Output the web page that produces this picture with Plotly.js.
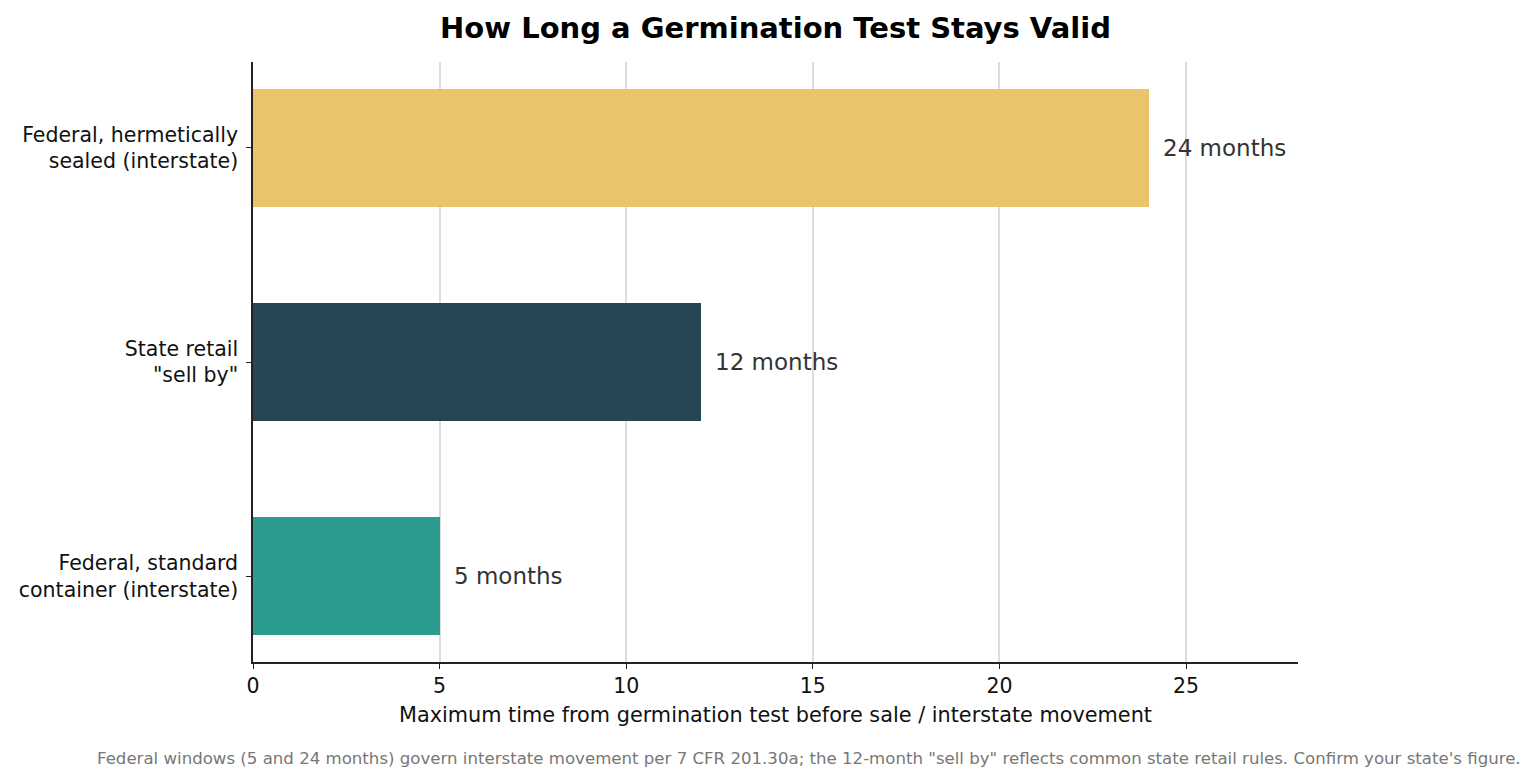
<!DOCTYPE html>
<html>
<head>
<meta charset="utf-8">
<script src="https://cdn.plot.ly/plotly-3.0.1.min.js"></script>
<style>
  html, body { margin: 0; padding: 0; background: #fff; }
  #chart { width: 1537px; height: 783px; }
</style>
</head>
<body>
<div id="chart"></div>
<script>
// chart data, top bar first
const categories = [
  'Federal, hermetically<br>sealed (interstate)',
  'State retail<br>"sell by"',
  'Federal, standard<br>container (interstate)'
];
const months = [24, 12, 5];
const valueLabels = ['24 months', '12 months', '5 months'];
const barColors = ['#E9C46A', '#264653', '#2A9D8F'];
const xTicks = [0, 5, 10, 15, 20, 25];

const FONT = 'DejaVu Sans, Verdana, sans-serif';

const trace = {
  type: 'bar',
  orientation: 'h',
  x: months,
  y: categories,
  width: 0.55,
  marker: { color: barColors, line: { width: 0 } },
  hoverinfo: 'x+y'
};

// value labels just right of each bar
const annotations = months.map(function (m, i) {
  return {
    x: m,
    y: categories[i],
    xref: 'x',
    yref: 'y',
    text: valueLabels[i],
    showarrow: false,
    xanchor: 'left',
    xshift: 12,
    font: { family: FONT, size: 23, color: '#333333' }
  };
});

// footnote under the axis title
annotations.push({
  xref: 'paper',
  yref: 'paper',
  x: 0.532,
  y: -0.142,
  yanchor: 'top',
  xanchor: 'center',
  showarrow: false,
  text: 'Federal windows (5 and 24 months) govern interstate movement per 7 CFR 201.30a; the 12-month "sell by" reflects common state retail rules. Confirm your state\'s figure.',
  font: { family: FONT, size: 16.6, color: '#777777' }
});

const layout = {
  width: 1537,
  height: 783,
  margin: { l: 253, r: 239, t: 62, b: 121 },
  paper_bgcolor: '#ffffff',
  plot_bgcolor: '#ffffff',
  font: { family: FONT, color: '#111111' },
  title: {
    text: '<b>How Long a Germination Test Stays Valid</b>',
    xref: 'paper',
    x: 0.5,
    xanchor: 'center',
    y: 0.964,
    yanchor: 'middle',
    font: { family: FONT, size: 29, color: '#000000' }
  },
  xaxis: {
    range: [0, 28],
    tickvals: xTicks,
    ticktext: xTicks.map(String),
    showgrid: true,
    gridcolor: '#dddddd',
    gridwidth: 1.5,
    zeroline: false,
    showline: true,
    linecolor: '#222222',
    linewidth: 1.5,
    ticks: 'outside',
    ticklen: 5,
    tickwidth: 1.2,
    tickcolor: '#222222',
    tickfont: { family: FONT, size: 20.5, color: '#111111' },
    title: {
      text: 'Maximum time from germination test before sale / interstate movement',
      font: { family: FONT, size: 20.8, color: '#111111' },
      standoff: 10
    }
  },
  yaxis: {
    type: 'category',
    range: [2.4, -0.4],
    showgrid: false,
    zeroline: false,
    showline: true,
    linecolor: '#222222',
    linewidth: 1.5,
    ticks: 'outside',
    ticklen: 5,
    tickwidth: 1.2,
    tickcolor: '#222222',
    ticklabelstandoff: 4,
    tickfont: { family: FONT, size: 20.5, color: '#111111' }
  },
  annotations: annotations,
  showlegend: false,
  bargap: 0
};

Plotly.newPlot('chart', [trace], layout, { displayModeBar: false, responsive: false });
</script>
</body>
</html>
